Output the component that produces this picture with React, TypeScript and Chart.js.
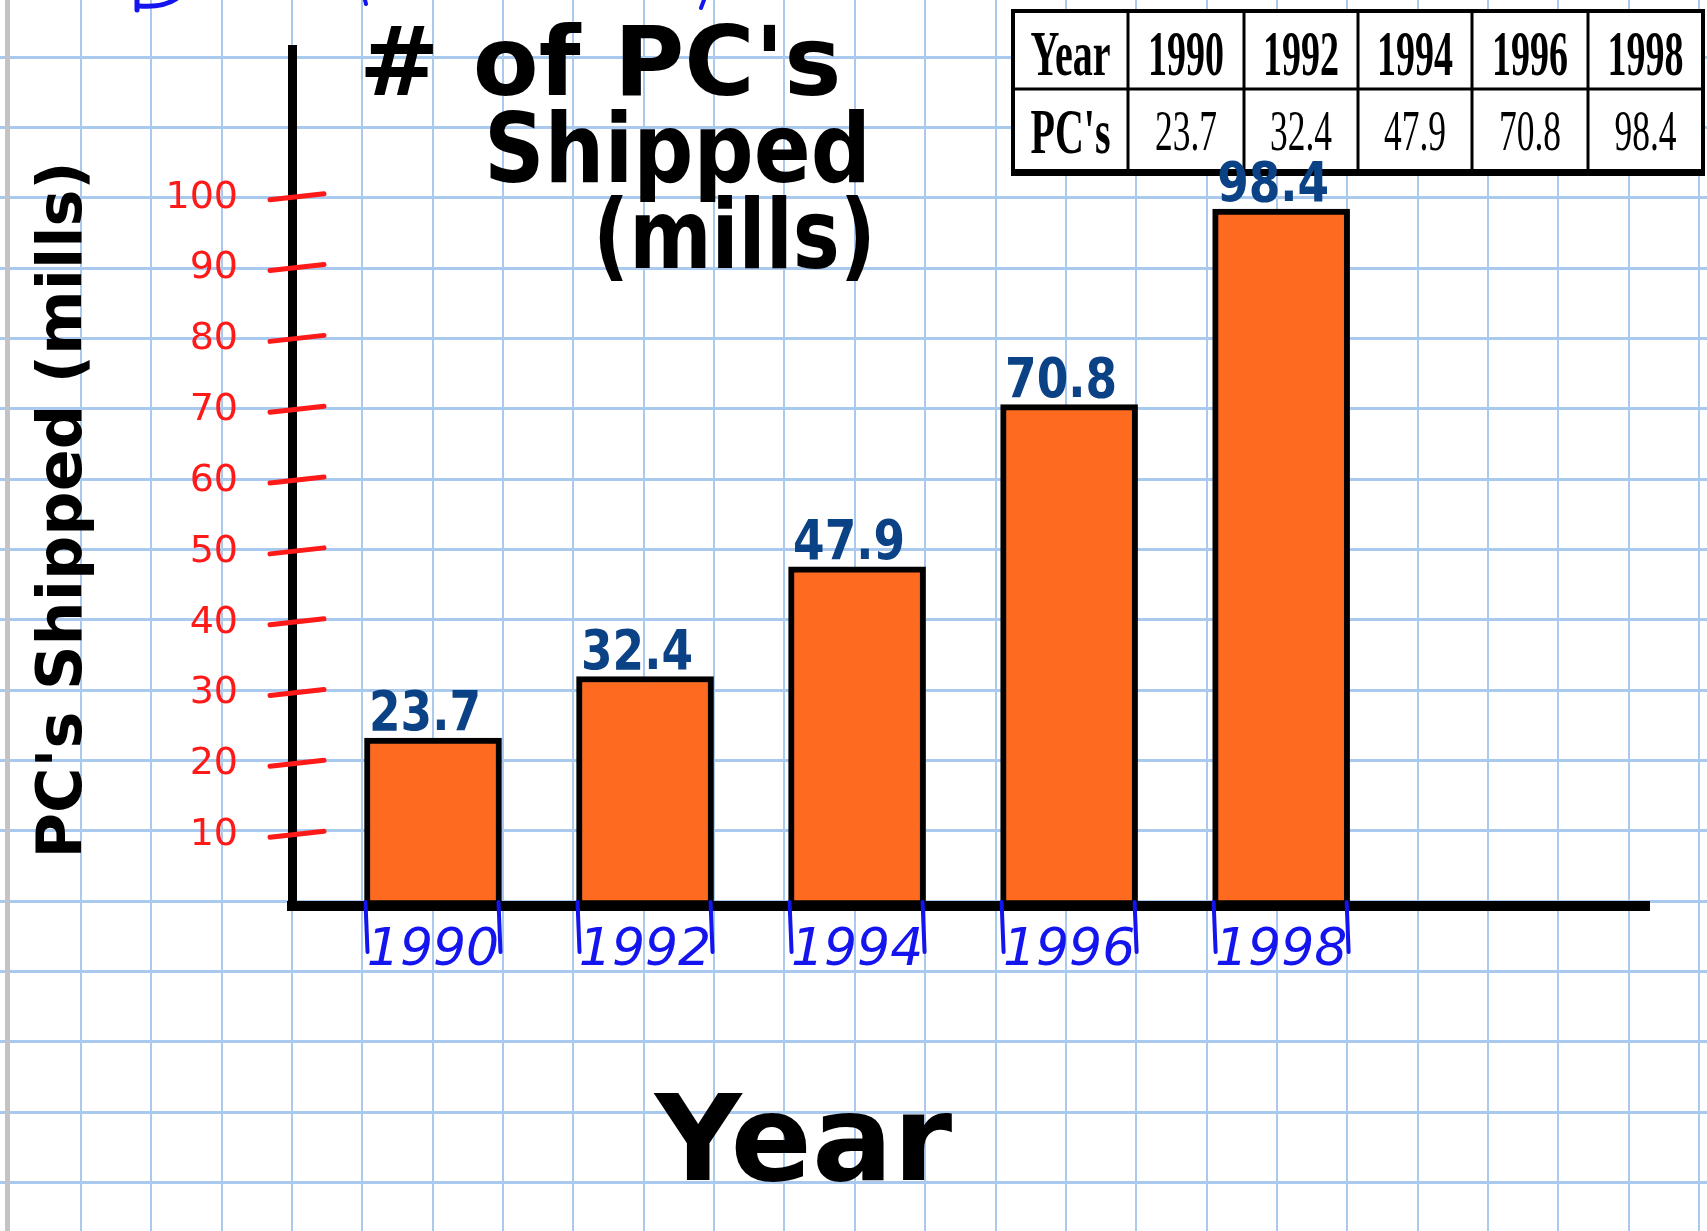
import React, { useEffect, useRef } from 'react';
import { Chart, registerables } from 'chart.js';

Chart.register(...registerables);

// ---- data ----
const years = ['1990', '1992', '1994', '1996', '1998'];
const shipped = [23.7, 32.4, 47.9, 70.8, 98.4];
const yLabelMax = 100;
const titleLines = ["# of PC's", 'Shipped', '(mills)'];
const yTitle = "PC's Shipped (mills)";
const xTitle = 'Year';
const tableRowHeads = ['Year', "PC's"];

const FONT = "'DejaVu Sans', sans-serif";
const SERIF = "'Liberation Serif', 'Times New Roman', serif";

export default function App() {
  const ref = useRef<HTMLCanvasElement>(null);

  useEffect(() => {
    const canvas = ref.current as HTMLCanvasElement;

    const paper = {
      id: 'paper',
      beforeDraw(chart: any) {
        const ctx = chart.ctx as CanvasRenderingContext2D;
        const W = chart.width;
        const H = chart.height;
        ctx.save();
        ctx.fillStyle = '#ffffff';
        ctx.fillRect(0, 0, W, H);
        ctx.strokeStyle = '#a9c9ef';
        const step = 70.35;
        ctx.lineWidth = 2;
        for (let x = 10.6 + step; x < W; x += step) {
          ctx.beginPath();
          ctx.moveTo(Math.round(x), 0);
          ctx.lineTo(Math.round(x), H);
          ctx.stroke();
        }
        ctx.lineWidth = 3;
        for (let y = 56.5; y < H; y += step) {
          ctx.beginPath();
          ctx.moveTo(0, Math.round(y) + 0.5);
          ctx.lineTo(W, Math.round(y) + 0.5);
          ctx.stroke();
        }
        ctx.fillStyle = '#c3c3c3';
        ctx.fillRect(5, 0, 5, H);

        // cut-off blue pen strokes along the top edge
        ctx.strokeStyle = '#1414ee';
        ctx.lineCap = 'round';
        ctx.lineWidth = 5;
        ctx.beginPath();
        ctx.moveTo(137, 0);
        ctx.lineTo(137, 10);
        ctx.stroke();
        ctx.beginPath();
        ctx.moveTo(139, 6);
        ctx.quadraticCurveTo(162, 8, 176, -1);
        ctx.stroke();
        ctx.lineWidth = 4;
        ctx.beginPath();
        ctx.moveTo(365, 0);
        ctx.lineTo(366, 4);
        ctx.stroke();
        ctx.beginPath();
        ctx.moveTo(704, 0);
        ctx.lineTo(701, 8);
        ctx.stroke();
        ctx.restore();
      },
    };

    const decor = {
      id: 'decor',
      afterDraw(chart: any) {
        const ctx = chart.ctx as CanvasRenderingContext2D;
        const area = chart.chartArea;
        const yScale = chart.scales.y;
        ctx.save();
        ctx.lineCap = 'round';

        // red tick dashes across the y axis
        ctx.strokeStyle = '#ff1a1a';
        ctx.lineWidth = 5;
        yScale.ticks.forEach((t: any) => {
          if (t.value > 0 && t.value <= yLabelMax) {
            const y = yScale.getPixelForValue(t.value);
            ctx.beginPath();
            ctx.moveTo(area.left - 22, y + 2);
            ctx.lineTo(area.left + 32, y - 4);
            ctx.stroke();
          }
        });

        // handwritten-style title
        ctx.fillStyle = '#000000';
        ctx.font = `bold 96px ${FONT}`;
        ctx.textAlign = 'left';
        ctx.textBaseline = 'alphabetic';
        ctx.fillText(titleLines[0], 359, 95, 490);
        ctx.fillText(titleLines[1], 484, 182, 387);
        ctx.fillText(titleLines[2], 593, 268, 283);

        // data table, top right
        const colX = [1013, 1128, 1244, 1358, 1472, 1588, 1703];
        const rowY = [11, 89, 173];
        ctx.fillStyle = '#ffffff';
        ctx.fillRect(colX[0], rowY[0], colX[6] - colX[0], rowY[2] - rowY[0]);
        ctx.strokeStyle = '#000000';
        ctx.lineCap = 'butt';
        ctx.lineWidth = 3;
        for (let c = 1; c < colX.length - 1; c++) {
          ctx.beginPath();
          ctx.moveTo(colX[c], rowY[0]);
          ctx.lineTo(colX[c], rowY[2]);
          ctx.stroke();
        }
        ctx.beginPath();
        ctx.moveTo(colX[0], rowY[1]);
        ctx.lineTo(colX[6], rowY[1]);
        ctx.stroke();
        ctx.lineWidth = 4;
        ctx.strokeRect(colX[0], rowY[0], colX[6] - colX[0], rowY[2] - rowY[0]);
        ctx.fillStyle = '#000000';
        ctx.fillRect(colX[0] - 2, rowY[2] - 4, colX[6] - colX[0] + 4, 7);

        ctx.textAlign = 'center';
        ctx.textBaseline = 'alphabetic';
        ctx.font = `bold 64px ${SERIF}`;
        ctx.fillText(tableRowHeads[0], (colX[0] + colX[1]) / 2, 75, 80);
        ctx.fillText(tableRowHeads[1], (colX[0] + colX[1]) / 2, 153, 80);
        years.forEach((yr, i) => {
          const cx = (colX[i + 1] + colX[i + 2]) / 2;
          ctx.font = `bold 64px ${SERIF}`;
          ctx.fillText(yr, cx, 75, 76);
          ctx.font = `56px ${SERIF}`;
          ctx.fillText(String(shipped[i]), cx, 150, 62);
        });

        // blue edge marks under each bar + value labels above
        ctx.lineCap = 'round';
        const meta = chart.getDatasetMeta(0);
        meta.data.forEach((el: any, i: number) => {
          const p = el.getProps(['x', 'y', 'width'], true);
          const l = p.x - p.width / 2 + 2;
          const r = p.x + p.width / 2 - 2;
          ctx.strokeStyle = '#1414ee';
          ctx.lineWidth = 4;
          [l, r].forEach((xe) => {
            ctx.beginPath();
            ctx.moveTo(xe - 1, area.bottom - 4);
            ctx.lineTo(xe + 1, area.bottom + 46);
            ctx.stroke();
          });
          ctx.fillStyle = '#0b4285';
          ctx.font = `bold 56px ${FONT}`;
          ctx.textAlign = 'center';
          ctx.textBaseline = 'alphabetic';
          ctx.fillText(String(shipped[i]), p.x - 8, p.y - 8, 112);
        });
        ctx.restore();
      },
    };

    const chart = new Chart(canvas, {
      type: 'bar',
      data: {
        datasets: [
          {
            label: "PC's",
            data: shipped.map((v, i) => ({ x: i, y: v })),
            backgroundColor: '#ff6a21',
            borderColor: '#000000',
            borderWidth: 6,
            borderSkipped: false,
            barThickness: 137,
          },
        ],
      },
      options: {
        responsive: false,
        animation: false,
        devicePixelRatio: 1,
        layout: { padding: { left: 0, right: 58, top: 49, bottom: 0 } },
        plugins: {
          legend: { display: false },
          tooltip: { enabled: false },
          title: { display: false },
        },
        scales: {
          x: {
            type: 'linear',
            offset: false,
            min: -0.665,
            max: 5.735,
            grid: { display: false, drawTicks: false, offset: false },
            border: { display: true, color: '#000000', width: 10 },
            ticks: {
              stepSize: 1,
              includeBounds: false,
              autoSkip: false,
              maxRotation: 0,
              padding: 14,
              color: '#1414ee',
              font: { family: FONT, size: 52, style: 'italic' },
              callback: (v: any) => {
                const n = Number(v);
                return Number.isInteger(n) && n >= 0 && n < years.length ? years[n] : '';
              },
            },
            title: {
              display: true,
              text: xTitle + '        ',
              color: '#000000',
              font: { family: FONT, size: 120, weight: 'bold' },
              padding: { top: 0, bottom: 10 },
            },
            afterFit: (s: any) => {
              s.height = 325;
              s.paddingLeft = 0;
              s.paddingRight = 0;
            },
          },
          y: {
            type: 'linear',
            min: 0,
            max: 121,
            grid: { display: false, drawTicks: false },
            border: { display: true, color: '#000000', width: 9 },
            ticks: {
              stepSize: 10,
              padding: 54,
              color: '#ff1a1a',
              font: { family: FONT, size: 38 },
              callback: (v: any) => {
                const n = Number(v);
                return n > 0 && n <= yLabelMax ? String(n) : '';
              },
            },
            title: {
              display: true,
              text: yTitle + '   ',
              color: '#000000',
              font: { family: FONT, size: 62, weight: 'bold' },
              padding: { top: 28, bottom: 0 },
            },
            afterFit: (s: any) => {
              s.width = 292;
              s.paddingTop = 0;
              s.paddingBottom = 0;
            },
          },
        },
      },
      plugins: [paper, decor],
    } as any);

    return () => chart.destroy();
  }, []);

  return (
    <div style={{ position: 'fixed', left: 0, top: 0, width: 1707, height: 1231 }}>
      <canvas ref={ref} width={1707} height={1231} style={{ display: 'block' }} />
    </div>
  );
}
